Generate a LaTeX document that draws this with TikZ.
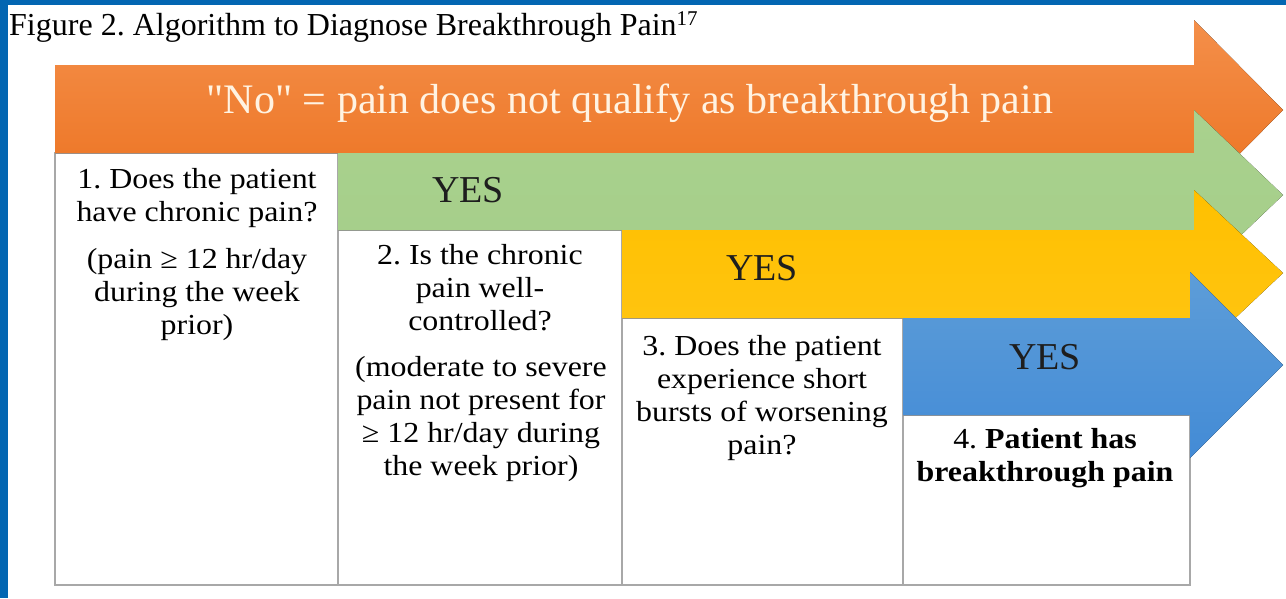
\documentclass[tikz,border=0pt]{standalone}
\usepackage{fontspec}
\setmainfont{Liberation Serif}
\newfontfamily\boxfont[FakeStretch=1.1]{Liberation Serif}
\newfontfamily\banfont[Ligatures=TeXOff]{Liberation Serif}
\frenchspacing
\definecolor{frameblue}{HTML}{0366B2}
\definecolor{orTop}{HTML}{F48F4A}
\definecolor{orBot}{HTML}{EC7220}
\definecolor{grnTop}{HTML}{A9D18E}
\definecolor{grnBot}{HTML}{A5CE89}
\definecolor{ylTop}{HTML}{FFC000}
\definecolor{ylBot}{HTML}{FFC513}
\definecolor{blTop}{HTML}{5D9DD8}
\definecolor{blBot}{HTML}{438BD6}
\definecolor{boxline}{HTML}{A8A8A8}
\definecolor{cream}{HTML}{FFF3E2}
\definecolor{yestext}{HTML}{1E1E1E}
\tikzset{
  colbox/.style={draw=boxline, fill=white, line width=1.2pt},
  boxtext/.style={anchor=north, inner sep=0pt, align=center, text=black,
    font=\boxfont\fontsize{29}{33}\selectfont},
  yeslabel/.style={inner sep=0pt, text=yestext, font=\fontsize{38}{40}\selectfont},
  notext/.style={inner sep=0pt, text=cream, font=\banfont\fontsize{42}{44}\selectfont},
  titletext/.style={anchor=base west, inner sep=0pt, font=\fontsize{32}{34}\selectfont}
}
\begin{document}
\begin{tikzpicture}[x=1pt,y=-1pt]
\useasboundingbox (0,0) rectangle (1286,598);
\fill[white] (0,0) rectangle (1286,598);
\fill[frameblue] (0,0) rectangle (1286,5);
\fill[frameblue] (0,0) rectangle (8,598);

% title
\node[titletext] (title) at (9,35) {Figure 2. Algorithm to Diagnose Breakthrough Pain\textsuperscript{\fontsize{21}{22}\selectfont 17}};

% white columns
\draw[colbox] (55,153) rectangle (338,585);
\draw[colbox] (338,230) rectangle (622,585);
\draw[colbox] (622,318) rectangle (903,585);
\draw[colbox] (903,415) rectangle (1190,585);

% arrows (each drawn over the previous one)
\fill[top color=orTop, bottom color=orBot]
  (55,65) -- (1194,65) -- (1194,20) -- (1283,110) -- (1194,200) -- (1194,153) -- (55,153) -- cycle;
\fill[top color=grnTop, bottom color=grnBot]
  (338,153) -- (1194,153) -- (1194,110) -- (1283,195) -- (1194,280) -- (1194,230) -- (338,230) -- cycle;
\fill[top color=ylTop, bottom color=ylBot]
  (622,230) -- (1194,230) -- (1194,190) -- (1283,273) -- (1194,357) -- (1194,318) -- (622,318) -- cycle;
\fill[top color=blTop, bottom color=blBot]
  (903,318) -- (1190,318) -- (1190,272) -- (1283,365) -- (1190,458) -- (1190,415) -- (903,415) -- cycle;

% arrow labels
\node[notext] (no) at (630,103) {"No" = pain does not qualify as breakthrough pain};
\node[yeslabel] (yes1) at (468,190) {YES};
\node[yeslabel] (yes2) at (762,268) {YES};
\node[yeslabel] (yes3) at (1045,357) {YES};

% column texts
\node[boxtext] (q1) at (197,168) {1. Does the patient\\have chronic pain?};
\node[boxtext] (q1n) at (197,248) {(pain ≥ 12 hr/day\\during the week\\prior)};
\node[boxtext] (q2) at (480,244) {2. Is the chronic\\pain well-\\controlled?};
\node[boxtext] (q2n) at (481,356) {(moderate to severe\\pain not present for\\≥ 12 hr/day during\\the week prior)};
\node[boxtext] (q3) at (762,335) {3. Does the patient\\experience short\\bursts of worsening\\pain?};
\node[boxtext] (q4) at (1045,428) {4. \textbf{Patient has}\\\textbf{breakthrough pain}};
\end{tikzpicture}
\end{document}
